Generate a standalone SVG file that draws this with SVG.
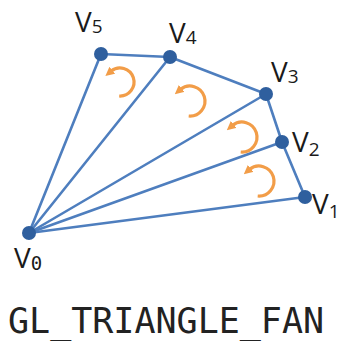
<svg xmlns="http://www.w3.org/2000/svg" width="358" height="341" viewBox="0 0 358 341">
  <style>
    .edge { stroke: #4E7EBE; stroke-width: 2.6; fill: none; stroke-linecap: round; stroke-linejoin: round; }
    .dot { fill: #2F5F9E; }
    .lbl { font-family: "Open Sans", "Liberation Sans", Arial, sans-serif; font-size: 28px; fill: #1a1a1a; }
    .sub { font-size: 19px; }
    .winding { stroke: #F29D48; stroke-width: 3.2; fill: none; marker-end: url(#ah); }
    .title { font-family: "DejaVu Sans Mono", "Liberation Mono", monospace; font-size: 35px; fill: #222; }
  </style>
  <defs>
    <marker id="ah" viewBox="0 0 8 8" refX="1.5" refY="4" markerWidth="9" markerHeight="9" markerUnits="userSpaceOnUse" orient="auto">
      <path d="M0,0 L8,4 L0,8 z" fill="#F29D48"/>
    </marker>
  </defs>
  <rect width="358" height="341" fill="#ffffff"/>

  <g id="connectors">
    <line class="edge" x1="29" y1="233" x2="305" y2="197"/>
    <line class="edge" x1="29" y1="233" x2="282" y2="142"/>
    <line class="edge" x1="29" y1="233" x2="266" y2="94"/>
    <line class="edge" x1="29" y1="233" x2="170" y2="57"/>
    <line class="edge" x1="29" y1="233" x2="101" y2="54"/>
    <polyline class="edge" points="305,197 282,142 266,94 170,57 101,54"/>
  </g>

  <g id="windings">
    <path class="winding" d="M119.2,96 A14,14 0 1 0 111,71.3"/>
    <path class="winding" d="M188.7,116 A15,15 0 1 0 180.4,89.5"/>
    <path class="winding" d="M240.7,152 A15,15 0 1 0 232.4,125.5"/>
    <path class="winding" d="M257.7,196 A15,15 0 1 0 249.4,169.5"/>
  </g>

  <g id="v0">
    <circle class="dot" cx="29" cy="233" r="7"/>
    <text class="lbl" x="14" y="268">V<tspan class="sub" font-family="DejaVu Sans Mono, monospace" dy="2">0</tspan></text>
  </g>
  <g id="v1">
    <circle class="dot" cx="305" cy="197" r="7"/>
    <text class="lbl" x="312" y="214">V<tspan class="sub" dy="4">1</tspan></text>
  </g>
  <g id="v2">
    <circle class="dot" cx="282" cy="142" r="7"/>
    <text class="lbl" x="292" y="152">V<tspan class="sub" dy="4">2</tspan></text>
  </g>
  <g id="v3">
    <circle class="dot" cx="266" cy="94" r="7"/>
    <text class="lbl" x="271" y="82">V<tspan class="sub" dy="1">3</tspan></text>
  </g>
  <g id="v4">
    <circle class="dot" cx="170" cy="57" r="7"/>
    <text class="lbl" x="169" y="43">V<tspan class="sub" dy="1">4</tspan></text>
  </g>
  <g id="v5">
    <circle class="dot" cx="101" cy="54" r="7"/>
    <text class="lbl" x="75" y="32">V<tspan class="sub" dy="1">5</tspan></text>
  </g>

  <text class="title" x="8" y="333">GL_TRIANGLE_FAN</text>
</svg>
